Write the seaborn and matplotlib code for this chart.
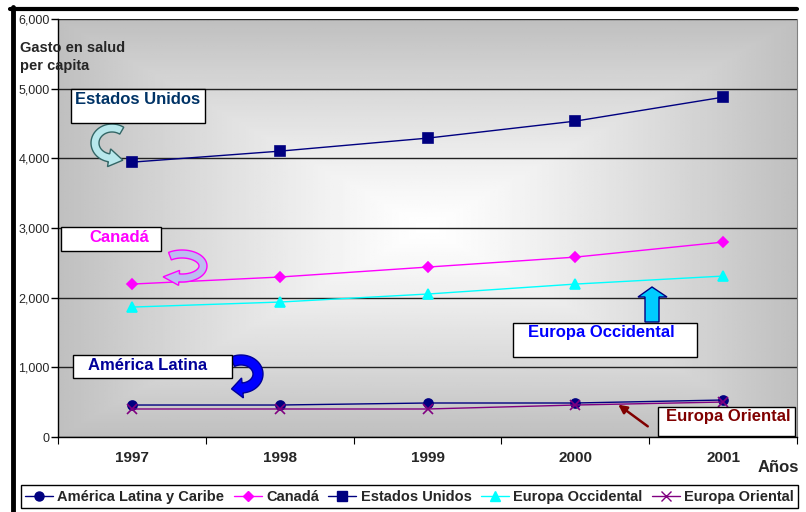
import numpy as np
import pandas as pd
import matplotlib.pyplot as plt
import seaborn as sns
import matplotlib.ticker as mtick
from matplotlib.patches import Rectangle, Polygon, FancyArrowPatch
from matplotlib.lines import Line2D

# data
years = ['1997', '1998', '1999', '2000', '2001']
america_latina = [459, 459, 488, 488, 531]
canada = [2195, 2296, 2439, 2582, 2798]
estados_unidos = [3945, 4103, 4290, 4534, 4878]
europa_occ = [1865, 1937, 2052, 2195, 2310]
europa_or = [402, 402, 402, 459, 502]

series = {
    'América Latina y Caribe': america_latina,
    'Canadá': canada,
    'Estados Unidos': estados_unidos,
    'Europa Occidental': europa_occ,
    'Europa Oriental': europa_or,
}
colors = ['#000080', '#FF00FF', '#000080', '#00FFFF', '#800080']
markers = ['o', 'D', 's', '^', 'x']
msizes = [6.5, 5.5, 7, 6.5, 7]

sns.set_style('white')
plt.rcParams['font.family'] = ['Liberation Sans', 'DejaVu Sans']

W, H = 806, 512
fig = plt.figure(figsize=(W / 100, H / 100), dpi=100)
ax = fig.add_axes([58 / W, 1 - 437 / H, 739 / W, 418 / H])


def fx(x):
    return x / W


def fy(y):
    return 1 - y / H


# gradient background (light centre, grey edges)
gx, gy = np.meshgrid(np.linspace(-1, 1, 300), np.linspace(-1, 1, 200))
t = np.maximum(np.abs(gx), np.abs(gy)) ** 1.2
shade = 1 - 0.25 * t
ax.imshow(shade, cmap='gray', vmin=0, vmax=1, extent=[0, 1, 0, 1],
          transform=ax.transAxes, aspect='auto', zorder=0, interpolation='bilinear')

for (name, vals), c, m, ms in zip(series.items(), colors, markers, msizes):
    d = pd.DataFrame({'pos': range(len(years)), 'valor': vals})
    sns.lineplot(data=d, x='pos', y='valor', color=c, marker=m, markersize=ms,
                 markeredgecolor=c, markeredgewidth=1.2, linewidth=1,
                 ax=ax, zorder=3)

ax.set_xlim(-0.5, 4.5)
ax.set_ylim(0, 6000)
ax.set_xlabel('')
ax.set_ylabel('')

ax.yaxis.set_major_locator(mtick.MultipleLocator(1000))
ax.yaxis.set_major_formatter(mtick.StrMethodFormatter('{x:,.0f}'))
ax.grid(axis='y', color='#222222', linewidth=1, zorder=1)
ax.set_axisbelow(True)
ax.tick_params(axis='y', direction='out', length=5, width=1, color='black',
               labelsize=9, pad=1, left=True)

ax.set_xticks(np.arange(-0.5, 5, 1))
ax.set_xticklabels([])
ax.set_xticks(range(5), minor=True)
ax.set_xticklabels(years, minor=True, fontweight='bold', fontsize=11)
ax.tick_params(axis='x', which='major', direction='out', length=5, color='black', bottom=True)
ax.tick_params(axis='x', which='minor', length=0, pad=10)

for s in ['left', 'bottom']:
    ax.spines[s].set_color('black')
    ax.spines[s].set_linewidth(1)
ax.spines['top'].set_visible(False)
ax.spines['right'].set_color('#808080')

fig.text(fx(20), fy(57), 'Gasto en salud\nper capita', fontsize=10.5, fontweight='bold',
         va='center', ha='left', linespacing=1.3)
fig.text(fx(758), fy(468), 'Años', fontsize=12, fontweight='bold', va='center', ha='left')

# outer frame lines
fig.add_artist(Line2D([fx(10), fx(797)], [fy(9), fy(9)], color='black', lw=3))
fig.add_artist(Line2D([fx(12.5), fx(12.5)], [fy(7), 0], color='black', lw=3.5))


def label_box(x0, y0, x1, y1, text, color, tx, ty):
    fig.add_artist(Rectangle((fx(x0), fy(y1)), fx(x1 - x0), (y1 - y0) / H,
                             transform=fig.transFigure, facecolor='white',
                             edgecolor='black', lw=1, zorder=5))
    fig.text(fx(tx), fy(ty), text, color=color, fontsize=12, fontweight='bold',
             va='center', ha='left', zorder=6)


label_box(71, 89, 205, 123, 'Estados Unidos', '#003366', 75, 100)
label_box(61, 227, 161, 251, 'Canadá', '#FF00FF', 89, 238)
label_box(513, 323, 697, 357, 'Europa Occidental', '#0000FF', 528, 333)
label_box(73, 355, 232, 378, 'América Latina', '#000099', 88, 366)
label_box(658, 407, 795, 436, 'Europa Oriental', '#800000', 666, 417)


def curved_arrow(cx, cy, rx, ry, th0, th1, w, hw, hl, fc, ec):
    # ribbon along an elliptic arc (pixel coords, y down) ending in an arrow head
    th = np.radians(np.linspace(th0, th1, 80))
    px = cx + rx * np.cos(th)
    py = cy - ry * np.sin(th)
    tx, ty = np.gradient(px), np.gradient(py)
    nrm = np.hypot(tx, ty)
    tx, ty = tx / nrm, ty / nrm
    nx, ny = -ty, tx
    outer = np.column_stack([px + nx * w / 2, py + ny * w / 2])
    inner = np.column_stack([px - nx * w / 2, py - ny * w / 2])
    ex, ey = px[-1], py[-1]
    head = np.array([[ex + nx[-1] * hw / 2, ey + ny[-1] * hw / 2],
                     [ex + tx[-1] * hl, ey + ty[-1] * hl],
                     [ex - nx[-1] * hw / 2, ey - ny[-1] * hw / 2]])
    pts = np.vstack([outer, head, inner[::-1]])
    pts = np.column_stack([pts[:, 0] / W, 1 - pts[:, 1] / H])
    fig.add_artist(Polygon(pts, closed=True, transform=fig.transFigure,
                           facecolor=fc, edgecolor=ec, lw=1, zorder=4))


curved_arrow(112, 143, 17, 15, 55, 260, 8, 18, 14, '#b8e8ec', '#336666')
curved_arrow(182, 266, 21, 12, 125, -98, 8, 15, 16, '#bcbcf0', '#FF00FF')
curved_arrow(241, 374, 17, 14, 120, -85, 10, 20, 11, '#0000FF', '#000099')

# straight upward arrow for Europa Occidental
up = np.array([[645, 322], [645, 297], [638, 297], [652, 287], [667, 297],
               [659, 297], [659, 322]], dtype=float)
fig.add_artist(Polygon(np.column_stack([up[:, 0] / W, 1 - up[:, 1] / H]), closed=True,
                       transform=fig.transFigure, facecolor='#00CCFF',
                       edgecolor='#000080', lw=1, zorder=4))

fig.add_artist(FancyArrowPatch((fx(650), fy(428)), (fx(616), fy(403)),
                               transform=fig.transFigure, arrowstyle='-|>,head_width=2.5,head_length=5',
                               mutation_scale=1, color='#800000', lw=1.8, zorder=4))

handles = [Line2D([], [], color=c, marker=m, markersize=ms, lw=1, markeredgecolor=c)
           for c, m, ms in zip(colors, markers, msizes)]
fig.legend(handles, list(series), loc='lower left',
           bbox_to_anchor=(fx(21), fy(508), fx(777), 25 / H), mode='expand',
           ncol=5, frameon=True, fancybox=False, edgecolor='black', framealpha=1,
           prop={'weight': 'bold', 'size': 10.5}, handlelength=1.9, handletextpad=0.3,
           columnspacing=0.2, borderpad=0.3, borderaxespad=0)

fig.savefig('out.png', dpi=100)
